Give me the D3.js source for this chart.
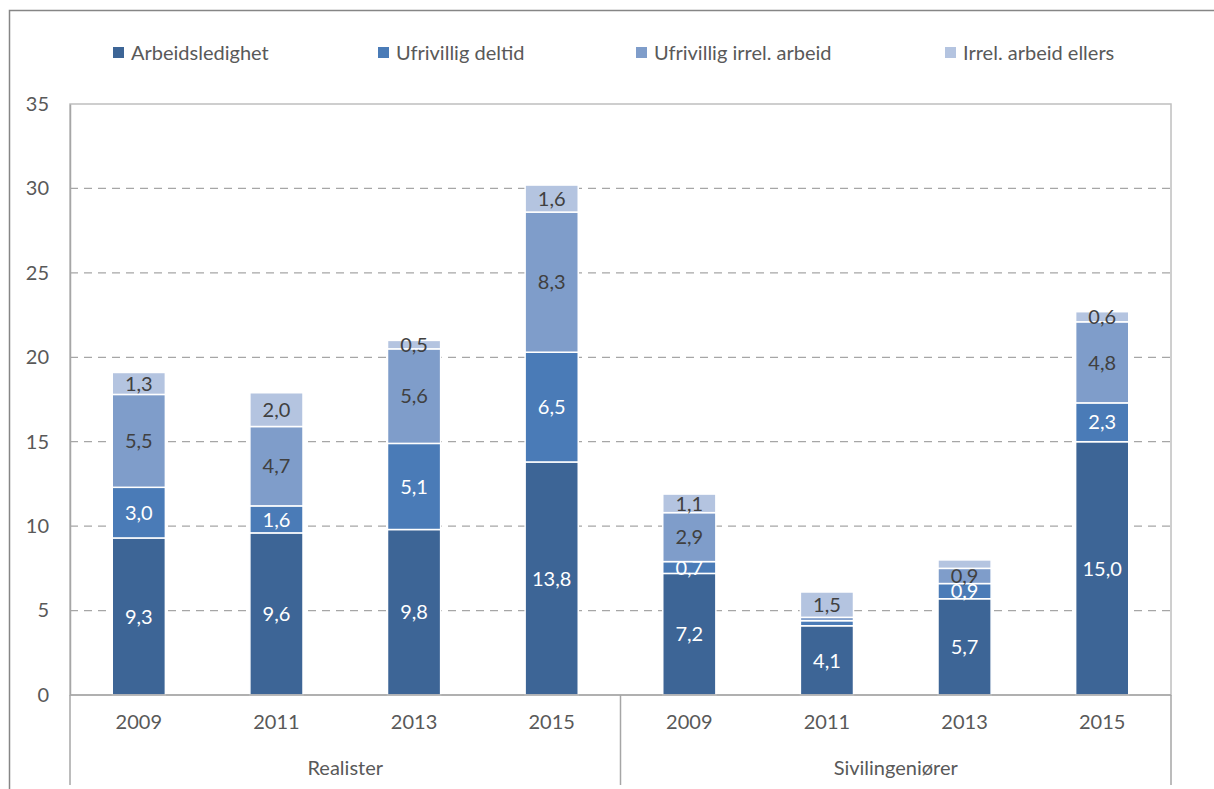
<!DOCTYPE html>
<html>
<head>
<meta charset="utf-8">
<script src="https://cdn.jsdelivr.net/npm/d3@7"></script>
<style>
  body { margin: 0; background: #fff; }
  svg { display: block; font-family: Lato, "Open Sans", sans-serif; }
</style>
</head>
<body>
<svg width="1214" height="789"></svg>
<script>
const groups = ['Realister', 'Sivilingeniører']
const years = ['2009', '2011', '2013', '2015']
const seriesNames = ['Arbeidsledighet', 'Ufrivillig deltid', 'Ufrivillig irrel. arbeid', 'Irrel. arbeid ellers']
const seriesColors = ['#3d6596', '#4a7bb7', '#7f9dca', '#b4c4e0']
const labelColors = ['#ffffff', '#ffffff', '#404040', '#404040']

// one array per series, order: Realister 2009..2015, Sivilingeniører 2009..2015
const arbeidsledighet = [9.3, 9.6, 9.8, 13.8, 7.2, 4.1, 5.7, 15.0]
const ufrivilligDeltid = [3.0, 1.6, 5.1, 6.5, 0.7, 0.3, 0.9, 2.3]
const ufrivilligIrrel = [5.5, 4.7, 5.6, 8.3, 2.9, 0.2, 0.9, 4.8]
const irrelEllers = [1.3, 2.0, 0.5, 1.6, 1.1, 1.5, 0.5, 0.6]
// which values got a printed label
const showLabel = [
  [1, 1, 1, 1, 1, 1, 1, 1],
  [1, 1, 1, 1, 1, 0, 1, 1],
  [1, 1, 1, 1, 1, 0, 1, 1],
  [1, 1, 1, 1, 1, 1, 0, 1],
]
const yTicks = [0, 5, 10, 15, 20, 25, 30, 35]

const svg = d3.select('svg')
const mLeft = 70, mRight = 1171, mTop = 104, mBottom = 695
const fs = 20

const rows = []
groups.forEach((g, gi) => years.forEach((yr, yi) => {
  const i = gi * years.length + yi
  rows.push({
    key: g + '-' + yr, group: g, year: yr, i,
    s0: arbeidsledighet[i], s1: ufrivilligDeltid[i], s2: ufrivilligIrrel[i], s3: irrelEllers[i],
  })
}))

const stack = d3.stack().keys(['s0', 's1', 's2', 's3'])(rows)

const x = d3.scaleBand().domain(rows.map(d => d.key)).range([mLeft, mRight]).paddingInner(0.614).paddingOuter(0.307)
const y = d3.scaleLinear().domain([0, 35]).range([mBottom, mTop])

// outer frame
svg.append('rect')
  .attr('x', 9.5).attr('y', 10.5).attr('width', 1230).attr('height', 800)
  .attr('fill', 'none').attr('stroke', '#868686').attr('stroke-width', 1.5)

// plot area border
svg.append('rect')
  .attr('x', mLeft).attr('y', mTop).attr('width', mRight - mLeft).attr('height', mBottom - mTop)
  .attr('fill', 'none').attr('stroke', '#bfbfbf').attr('stroke-width', 1.5)

// gridlines
svg.append('g')
  .selectAll('line')
  .data(yTicks.filter(t => t > 0 && t < 35))
  .join('line')
  .attr('x1', mLeft).attr('x2', mRight)
  .attr('y1', d => y(d)).attr('y2', d => y(d))
  .attr('stroke', '#a6a6a6').attr('stroke-width', 1.3).attr('stroke-dasharray', '8,6')

// y axis
const yAxis = svg.append('g')
  .attr('transform', `translate(${mLeft}, 0)`)
  .call(d3.axisLeft(y).tickValues(yTicks).tickSize(0).tickPadding(21))
yAxis.select('.domain').attr('stroke', '#a6a6a6').attr('stroke-width', 1.5)
yAxis.selectAll('text').attr('font-size', fs).attr('fill', '#595959').attr('font-family', 'Lato, sans-serif')

// bars
const layers = svg.append('g')
  .selectAll('g.layer')
  .data(stack)
  .join('g')
  .attr('class', 'layer')
  .attr('fill', (d, i) => seriesColors[i])

layers.selectAll('rect')
  .data(d => d)
  .join('rect')
  .attr('x', d => x(d.data.key))
  .attr('width', x.bandwidth())
  .attr('y', d => y(d[1]))
  .attr('height', d => y(d[0]) - y(d[1]))
  .attr('stroke', '#fff').attr('stroke-width', 1.5)

// value labels
layers.each(function (layer, li) {
  d3.select(this).selectAll('text')
    .data(layer.filter(d => showLabel[li][d.data.i]))
    .join('text')
    .attr('x', d => x(d.data.key) + x.bandwidth() / 2)
    .attr('y', d => (y(d[0]) + y(d[1])) / 2)
    .attr('dy', '0.36em')
    .attr('text-anchor', 'middle')
    .attr('font-size', fs)
    .attr('fill', labelColors[li])
    .text(d => d3.format('.1f')(d[1] - d[0]).replace('.', ','))
})

// x axis line and group separators
const axisG = svg.append('g')
axisG.append('line')
  .attr('x1', mLeft).attr('x2', mRight).attr('y1', mBottom).attr('y2', mBottom)
  .attr('stroke', '#a6a6a6').attr('stroke-width', 1.5)
const mid = (mLeft + mRight) / 2
;[mLeft, mid, mRight].forEach(px => {
  axisG.append('line')
    .attr('x1', px).attr('x2', px).attr('y1', mBottom).attr('y2', 785)
    .attr('stroke', '#a6a6a6').attr('stroke-width', 1.5)
})

axisG.selectAll('text.year')
  .data(rows)
  .join('text')
  .attr('class', 'year')
  .attr('x', d => x(d.key) + x.bandwidth() / 2)
  .attr('y', 729)
  .attr('text-anchor', 'middle')
  .attr('font-size', fs)
  .attr('fill', '#595959')
  .text(d => d.year)

axisG.selectAll('text.group')
  .data(groups)
  .join('text')
  .attr('class', 'group')
  .attr('x', (d, i) => mLeft + (i + 0.5) * (mRight - mLeft) / 2)
  .attr('y', 775)
  .attr('text-anchor', 'middle')
  .attr('font-size', fs)
  .attr('fill', '#595959')
  .text(d => d)

// legend
const legendX = [113, 378, 636, 945]
const legend = svg.append('g')
  .selectAll('g')
  .data(seriesNames)
  .join('g')
  .attr('transform', (d, i) => `translate(${legendX[i]}, 53)`)
legend.append('rect')
  .attr('x', 0).attr('y', -6).attr('width', 11).attr('height', 11)
  .attr('fill', (d, i) => seriesColors[i])
legend.append('text')
  .attr('x', 18).attr('dy', '0.36em')
  .attr('font-size', fs)
  .attr('fill', '#595959')
  .text(d => d)
</script>
</body>
</html>
